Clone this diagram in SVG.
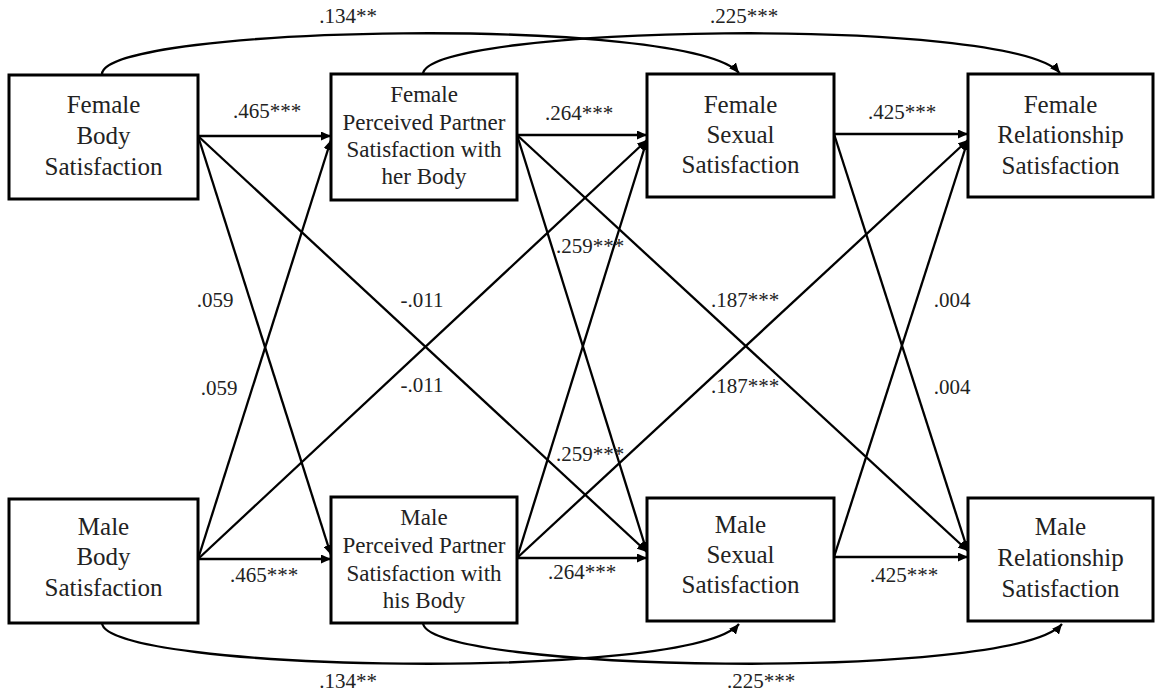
<svg xmlns="http://www.w3.org/2000/svg" width="1155" height="696" viewBox="0 0 1155 696">
<style>
.box{fill:#fff;stroke:#000;stroke-width:3}
text{font-family:'Liberation Serif',Tinos,'Nimbus Roman','Noto Serif',FreeSerif,'DejaVu Serif','Times New Roman',Times,serif;fill:#222;text-anchor:middle}
.nt{font-size:25px}
.nts{font-size:23px}
.lbl{font-size:21px}
.e{fill:none;stroke:#000;stroke-width:2.3;marker-end:url(#ah)}
</style>
<defs>
<marker id="ah" markerUnits="userSpaceOnUse" markerWidth="11" markerHeight="9" refX="10" refY="4.5" orient="auto">
<path d="M0,0 L10,4.5 L0,9 z" fill="#000"/>
</marker>
</defs>
<rect width="1155" height="696" fill="#fff"/>
<g id="connectors">
<path class="e" d="M102,74 C105,25 690,15 739,73"/>
<path class="e" d="M423,74 C426,25 1011,15 1060,73"/>
<path class="e" d="M102,623 C105,672 690,682 739,624"/>
<path class="e" d="M423,623 C426,672 1013,682 1062,624"/>
<path class="e" d="M198,136 L331,136"/>
<path class="e" d="M517,135 L647,135"/>
<path class="e" d="M834,134 L968,134"/>
<path class="e" d="M198,559 L331,559"/>
<path class="e" d="M517,558 L647,558"/>
<path class="e" d="M834,557 L968,557"/>
<path class="e" d="M198,136 L331,555"/>
<path class="e" d="M198,559 L331,140"/>
<path class="e" d="M198,136 L647,552"/>
<path class="e" d="M198,559 L647,140"/>
<path class="e" d="M517,135 L647,552"/>
<path class="e" d="M517,558 L647,140"/>
<path class="e" d="M517,135 L968,551"/>
<path class="e" d="M517,558 L968,140"/>
<path class="e" d="M834,134 L968,551"/>
<path class="e" d="M834,557 L968,140"/>
</g>
<g id="labels">
<text class="lbl" x="348" y="23">.134**</text>
<text class="lbl" x="744" y="23">.225***</text>
<text class="lbl" x="348" y="688">.134**</text>
<text class="lbl" x="761" y="688">.225***</text>
<text class="lbl" x="267" y="118">.465***</text>
<text class="lbl" x="579" y="120">.264***</text>
<text class="lbl" x="902" y="119">.425***</text>
<text class="lbl" x="264" y="582">.465***</text>
<text class="lbl" x="582" y="579">.264***</text>
<text class="lbl" x="904" y="582">.425***</text>
<text class="lbl" x="215" y="307">.059</text>
<text class="lbl" x="219" y="395">.059</text>
<text class="lbl" x="422" y="307">-.011</text>
<text class="lbl" x="422" y="392">-.011</text>
<text class="lbl" x="590" y="253">.259***</text>
<text class="lbl" x="590" y="461">.259***</text>
<text class="lbl" x="745" y="307">.187***</text>
<text class="lbl" x="745" y="393">.187***</text>
<text class="lbl" x="952" y="307">.004</text>
<text class="lbl" x="952" y="394">.004</text>
</g>
<g id="female-body">
<rect class="box" x="9" y="75" width="189" height="124"/>
<text class="nt" x="103.5" y="113">Female</text>
<text class="nt" x="103.5" y="144">Body</text>
<text class="nt" x="103.5" y="175">Satisfaction</text>
</g>
<g id="female-perceived">
<rect class="box" x="331" y="74" width="186" height="126"/>
<text class="nts" x="424" y="102">Female</text>
<text class="nts" x="424" y="130">Perceived Partner</text>
<text class="nts" x="424" y="157">Satisfaction with</text>
<text class="nts" x="424" y="184">her Body</text>
</g>
<g id="female-sexual">
<rect class="box" x="647" y="74" width="187" height="123"/>
<text class="nt" x="740.5" y="113">Female</text>
<text class="nt" x="740.5" y="143">Sexual</text>
<text class="nt" x="740.5" y="173">Satisfaction</text>
</g>
<g id="female-relationship">
<rect class="box" x="968" y="74" width="185" height="123"/>
<text class="nt" x="1060.5" y="113">Female</text>
<text class="nt" x="1060.5" y="143">Relationship</text>
<text class="nt" x="1060.5" y="174">Satisfaction</text>
</g>
<g id="male-body">
<rect class="box" x="9" y="499" width="189" height="124"/>
<text class="nt" x="103.5" y="535">Male</text>
<text class="nt" x="103.5" y="565">Body</text>
<text class="nt" x="103.5" y="596">Satisfaction</text>
</g>
<g id="male-perceived">
<rect class="box" x="331" y="497" width="186" height="126"/>
<text class="nts" x="424" y="525">Male</text>
<text class="nts" x="424" y="553">Perceived Partner</text>
<text class="nts" x="424" y="581">Satisfaction with</text>
<text class="nts" x="424" y="608">his Body</text>
</g>
<g id="male-sexual">
<rect class="box" x="647" y="498" width="187" height="123"/>
<text class="nt" x="740.5" y="533">Male</text>
<text class="nt" x="740.5" y="563">Sexual</text>
<text class="nt" x="740.5" y="593">Satisfaction</text>
</g>
<g id="male-relationship">
<rect class="box" x="968" y="498" width="185" height="123"/>
<text class="nt" x="1060.5" y="535">Male</text>
<text class="nt" x="1060.5" y="566">Relationship</text>
<text class="nt" x="1060.5" y="597">Satisfaction</text>
</g>
</svg>
